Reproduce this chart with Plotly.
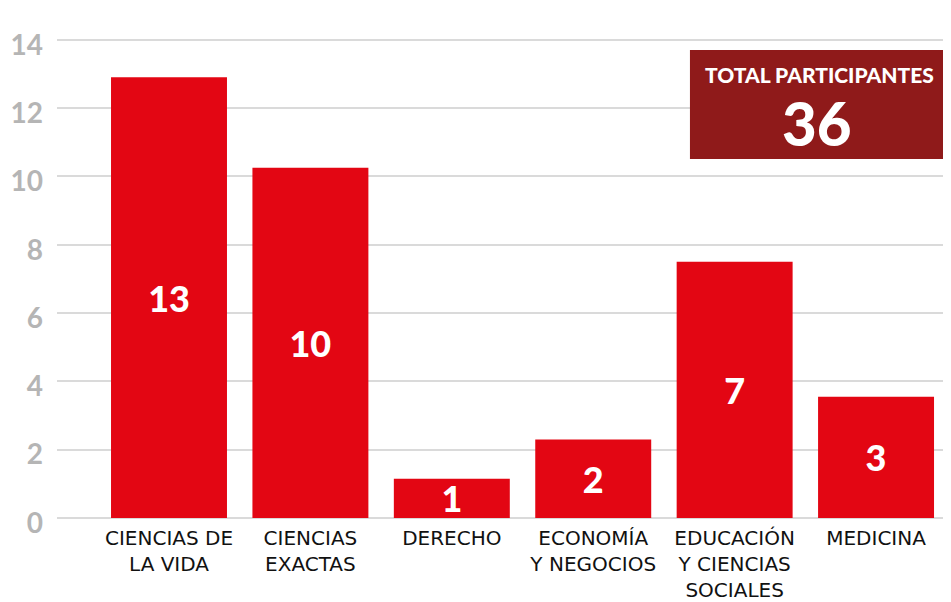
import plotly.graph_objects as go

# data
areas = ['CIENCIAS DE<br>LA VIDA', 'CIENCIAS<br>EXACTAS', 'DERECHO',
         'ECONOMÍA<br>Y NEGOCIOS', 'EDUCACIÓN<br>Y CIENCIAS<br>SOCIALES', 'MEDICINA']
participants = [13, 10, 1, 2, 7, 3]
# bar heights as drawn against the axis
bar_heights = [12.9, 10.25, 1.15, 2.3, 7.5, 3.55]
y_ticks = [0, 2, 4, 6, 8, 10, 12, 14]
total_label = 'TOTAL PARTICIPANTES'
total_value = sum(participants)

colors = {
    'bar': '#E30613',
    'box': '#8F1A1A',
    'grid': '#DADADA',
    'tick': '#B5B5B5',
    'text': '#111111',
}

fig = go.Figure(go.Bar(
    x=areas,
    y=bar_heights,
    text=[str(v) for v in participants],
    textposition='inside',
    insidetextanchor='middle',
    constraintext='none',
    textangle=0,
    textfont=dict(family='Lato', size=36, color='white', weight=900),
    marker=dict(color=colors['bar'], line=dict(width=0)),
    hoverinfo='skip',
))

# page body adds 8px, so the figure is 8px smaller than the window
fig.update_layout(
    width=943, height=594,
    plot_bgcolor='white',
    paper_bgcolor='white',
    margin=dict(l=49, r=0, t=30, b=84, autoexpand=False),
    bargap=0.18,
    showlegend=False,
    font=dict(family='Lato'),
)

fig.update_xaxes(
    range=[-0.792, 5.53],
    automargin=False,
    showgrid=False,
    showline=False,
    ticks='',
    tickfont=dict(family='DejaVu Sans', size=20, color=colors['text']),
    ticklabelstandoff=6,
)
fig.update_yaxes(
    range=[0, 14.05],
    automargin=False,
    tickvals=y_ticks,
    showgrid=True,
    gridcolor=colors['grid'],
    gridwidth=1.5,
    zeroline=True,
    zerolinecolor=colors['grid'],
    zerolinewidth=2,
    showline=False,
    ticks='',
    tickfont=dict(family='Lato', size=28, color=colors['tick'], weight=700),
    ticklabelstandoff=13,
    ticklabelshift=5,
)

# total box
fig.add_shape(type='rect', xref='paper', yref='paper',
              x0=0.708, x1=0.993, y0=0.748, y1=0.975,
              fillcolor=colors['box'], line=dict(width=0), layer='above')
fig.add_annotation(xref='paper', yref='paper', x=0.853, y=0.923,
                   xanchor='center', yanchor='middle',
                   text=total_label, showarrow=False,
                   font=dict(family='Lato', size=21, color='white', weight=900))
fig.add_annotation(xref='paper', yref='paper', x=0.850, y=0.823,
                   xanchor='center', yanchor='middle',
                   text=str(total_value), showarrow=False,
                   font=dict(family='Lato', size=60, color='white', weight=900))

fig.write_html('out.html')
